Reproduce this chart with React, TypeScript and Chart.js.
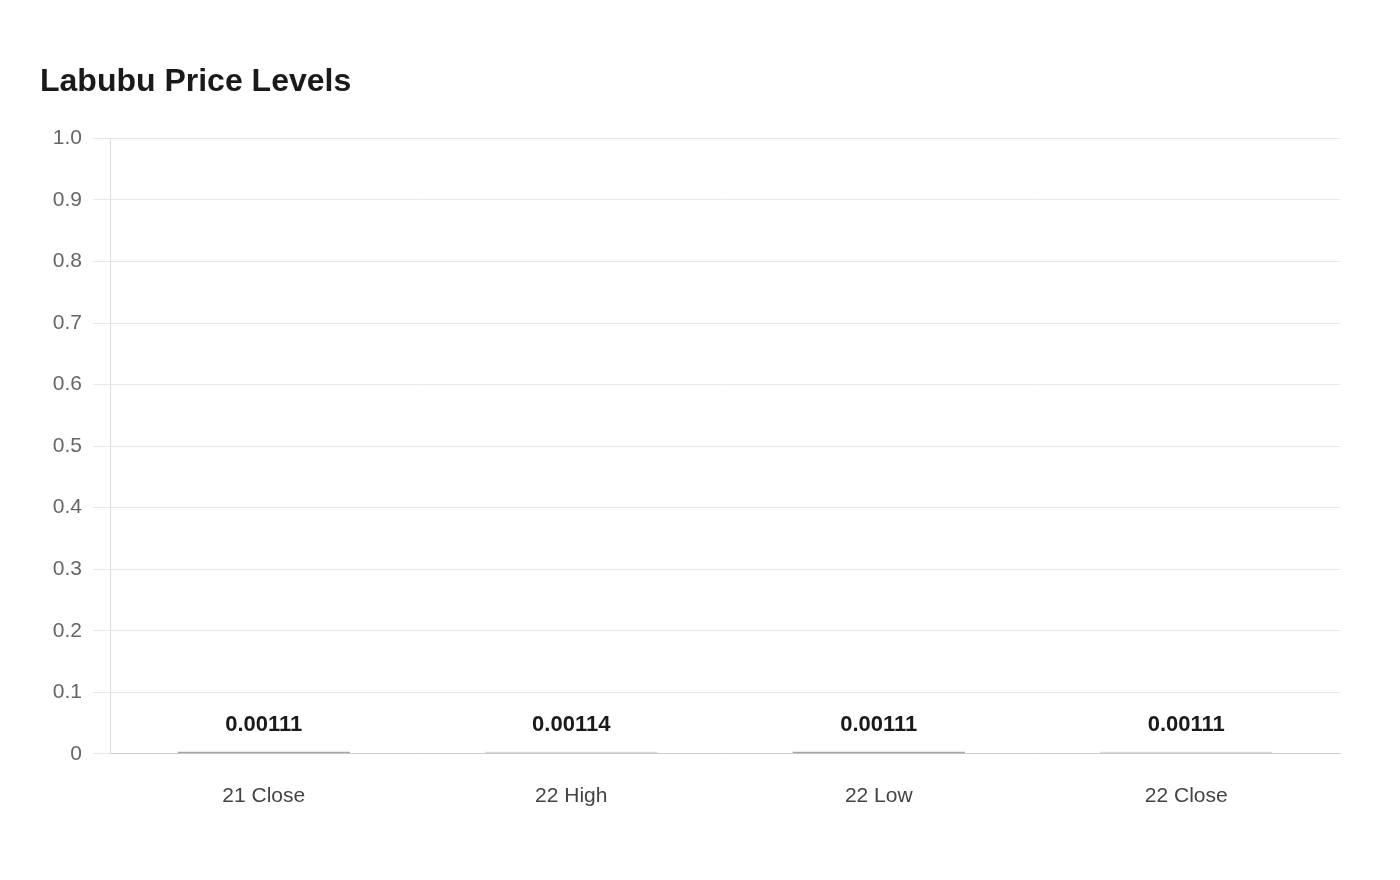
import Chart from "chart.js/auto";
import { useEffect, useRef } from "react";

const labels: string[] = ["21 Close", "22 High", "22 Low", "22 Close"];
const prices: number[] = [0.00111, 0.00114, 0.00111, 0.00111];
const priceText: string[] = ["0.00111", "0.00114", "0.00111", "0.00111"];
const barColors: string[] = ["#a6a6a6", "#d9d9d9", "#a6a6a6", "#d9d9d9"];

const FONT = "'Liberation Sans', Arial, Helvetica, sans-serif";

// draws the value text above each bar
const valueLabels = {
  id: "valueLabels",
  afterDatasetsDraw(chart: any) {
    const ctx = chart.ctx;
    const meta = chart.getDatasetMeta(0);
    const base = chart.scales.y.getPixelForValue(0);
    ctx.save();
    ctx.font = `bold 22px ${FONT}`;
    ctx.fillStyle = "#1a1a1a";
    ctx.textAlign = "center";
    ctx.textBaseline = "middle";
    meta.data.forEach((bar: any, i: number) => {
      ctx.fillText(priceText[i], bar.x, base - 29);
    });
    ctx.restore();
  },
};

const App: React.FC = () => {
  const chartRef = useRef<HTMLCanvasElement | null>(null);

  useEffect(() => {
    if (!chartRef.current) return;
    const ctx = chartRef.current.getContext("2d");
    if (!ctx) return;

    const myChart = new Chart(ctx, {
      type: "bar",
      data: {
        labels: labels,
        datasets: [{
          data: prices,
          backgroundColor: barColors,
          borderWidth: 0,
          minBarLength: 2,
          categoryPercentage: 0.8,
          barPercentage: 0.7,
        }],
      },
      options: {
        animation: false,
        responsive: true,
        maintainAspectRatio: false,
        layout: { padding: { left: 32, right: 52, top: 0, bottom: 33 } },
        plugins: {
          legend: { display: false },
          tooltip: { enabled: false },
          title: {
            display: true,
            text: "Labubu Price Levels",
            align: "start",
            color: "#1a1a1a",
            font: { family: FONT, size: 32, weight: "bold" },
            padding: { top: 55, bottom: 37 },
          },
        },
        scales: {
          x: {
            grid: { display: false, drawTicks: false },
            border: { display: true, color: "#cccccc", width: 1 },
            ticks: { color: "#444444", font: { family: FONT, size: 21 }, padding: 30 },
          },
          y: {
            min: 0,
            max: 1,
            afterFit: (s: any) => { s.width = 70; },
            grid: { color: "#e8e8e8", tickLength: 17, tickColor: "#e8e8e8" },
            border: { display: true, color: "#dddddd" },
            ticks: {
              stepSize: 0.1,
              color: "#666666",
              padding: 11,
              font: { family: FONT, size: 21 },
              callback: (v: any) => (v === 0 ? "0" : Number(v).toFixed(1)),
            },
          },
        },
      } as any,
      plugins: [valueLabels],
    });
    return () => myChart.destroy();
  }, []);

  return (
    <div style={{ width: "1384px", height: "864px", position: "relative" }}>
      <canvas ref={chartRef} />
    </div>
  );
};

export default App;
